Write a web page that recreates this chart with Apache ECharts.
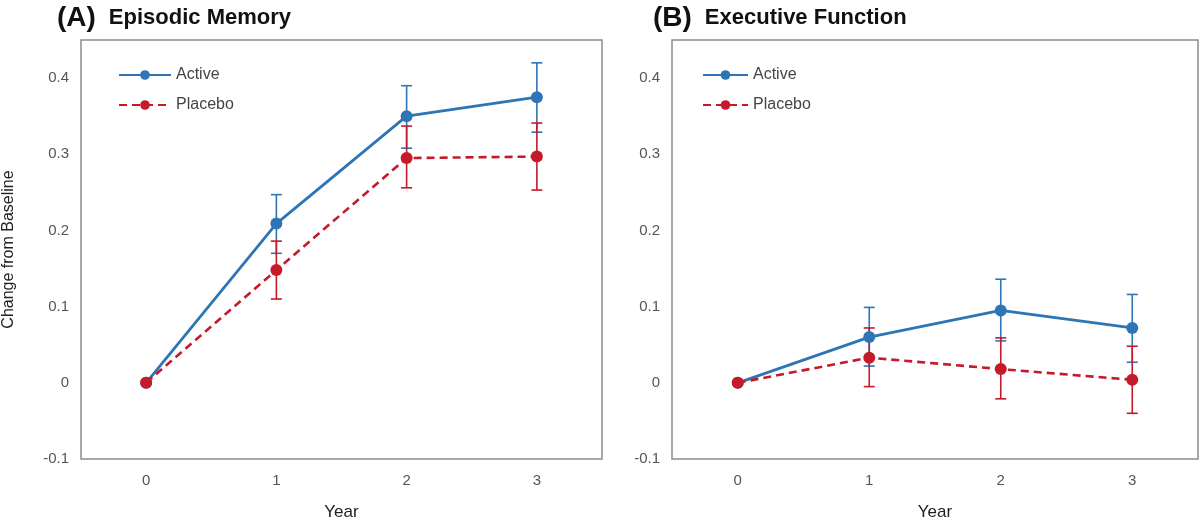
<!DOCTYPE html>
<html>
<head>
<meta charset="utf-8">
<script src="https://cdn.jsdelivr.net/npm/echarts@6/dist/echarts.min.js"></script>
<style>
html,body{margin:0;padding:0;background:#fff;}
#chart{width:1200px;height:531px;}
</style>
</head>
<body>
<div id="chart"></div>
<script>
// ---- data ----
const years = ['0', '1', '2', '3'];
const yTicks = [-0.1, 0, 0.1, 0.2, 0.3, 0.4];

// (A) Episodic Memory
const epiActive = [0, 0.209, 0.350, 0.375];
const epiActiveHigh = [0, 0.247, 0.390, 0.420];
const epiActiveLow = [0, 0.170, 0.308, 0.329];
const epiPlacebo = [0, 0.148, 0.295, 0.297];
const epiPlaceboHigh = [0, 0.186, 0.337, 0.341];
const epiPlaceboLow = [0, 0.110, 0.256, 0.253];

// (B) Executive Function
const exeActive = [0, 0.060, 0.095, 0.072];
const exeActiveHigh = [0, 0.099, 0.136, 0.116];
const exeActiveLow = [0, 0.022, 0.055, 0.027];
const exePlacebo = [0, 0.033, 0.018, 0.004];
const exePlaceboHigh = [0, 0.072, 0.059, 0.048];
const exePlaceboLow = [0, -0.005, -0.021, -0.040];

const BLUE = '#2e75b6';
const RED = '#c41a2a';

function errData(low, high) {
  const out = [];
  for (let i = 0; i < low.length; i++) {
    if (high[i] !== low[i]) out.push([i, low[i], high[i]]);
  }
  return out;
}

function errSeries(name, low, high, color, idx) {
  return {
    type: 'custom',
    name: name + ' err',
    xAxisIndex: idx, yAxisIndex: idx,
    data: errData(low, high),
    encode: { x: 0, y: [1, 2] },
    z: 2,
    silent: true,
    renderItem: function (params, api) {
      const x = api.value(0);
      const p1 = api.coord([x, api.value(1)]);
      const p2 = api.coord([x, api.value(2)]);
      const hw = 5.5;
      const style = { stroke: color, lineWidth: 1.6, fill: null };
      return {
        type: 'group',
        children: [
          { type: 'line', shape: { x1: p1[0], y1: p1[1], x2: p2[0], y2: p2[1] }, style: style },
          { type: 'line', shape: { x1: p1[0] - hw, y1: p1[1], x2: p1[0] + hw, y2: p1[1] }, style: style },
          { type: 'line', shape: { x1: p2[0] - hw, y1: p2[1], x2: p2[0] + hw, y2: p2[1] }, style: style }
        ]
      };
    }
  };
}

function lineSeries(name, data, color, dashed, idx) {
  return {
    type: 'line',
    name: name,
    xAxisIndex: idx, yAxisIndex: idx,
    data: data,
    symbol: 'circle',
    symbolSize: 12,
    z: 3,
    itemStyle: { color: color },
    lineStyle: { color: color, width: dashed ? 2.6 : 2.8, type: dashed ? [8, 5] : 'solid' },
    emphasis: { disabled: true },
    animation: false
  };
}

function yAxisDef(idx, withName) {
  return {
    type: 'value',
    gridIndex: idx,
    min: -0.1, max: 0.45, interval: 0.1,
    axisLine: { show: false },
    axisTick: { show: false },
    splitLine: { show: false },
    axisLabel: {
      showMaxLabel: false,
      margin: 12,
      color: '#555',
      fontSize: 15,
      fontFamily: 'Liberation Sans, Arial, sans-serif',
      formatter: function (v) {
        if (Math.abs(v) < 1e-9) return '0';
        return (+v.toFixed(1)).toString();
      }
    },
    name: withName ? 'Change from Baseline' : '',
    nameLocation: 'middle',
    nameGap: 64,
    nameTextStyle: { color: '#222', fontSize: 16, fontFamily: 'Liberation Sans, Arial, sans-serif' }
  };
}

function xAxisDef(idx) {
  return {
    type: 'category',
    gridIndex: idx,
    data: years,
    boundaryGap: true,
    axisLine: { show: false },
    axisTick: { show: false },
    splitLine: { show: false },
    axisLabel: { color: '#555', fontSize: 15, margin: 14, fontFamily: 'Liberation Sans, Arial, sans-serif' },
    name: 'Year',
    nameLocation: 'middle',
    nameGap: 45,
    nameTextStyle: { color: '#222', fontSize: 17, fontFamily: 'Liberation Sans, Arial, sans-serif' }
  };
}

function titleDef(letter, text, left) {
  return {
    text: '{a|' + letter + '}{b|' + text + '}',
    left: left, top: -1,
    textStyle: {
      rich: {
        a: { fontSize: 28, fontWeight: 'bold', color: '#111', fontFamily: 'Liberation Sans, Arial, sans-serif' },
        b: { fontSize: 22, fontWeight: 'bold', color: '#111', fontFamily: 'Liberation Sans, Arial, sans-serif', padding: [0, 0, 0, 13] }
      }
    }
  };
}

function legendDef(left, w) {
  return {
    orient: 'vertical',
    left: left, top: 62,
    itemWidth: w, itemHeight: 12,
    itemGap: 14,
    data: ['Active', 'Placebo'],
    textStyle: { color: '#444', fontSize: 16, fontFamily: 'Liberation Sans, Arial, sans-serif', padding: [0, 0, 0, 0] },
    selectedMode: false
  };
}

const chart = echarts.init(document.getElementById('chart'), null, { renderer: 'canvas' });
chart.setOption({
  backgroundColor: '#fff',
  animation: false,
  title: [titleDef('(A)', 'Episodic Memory', 52), titleDef('(B)', 'Executive Function', 648)],
  legend: [legendDef(113, 52), legendDef(697, 45)],
  grid: [
    { left: 76, top: 40, width: 526, height: 419, show: true, borderColor: '#8c8c8c', borderWidth: 1.5, backgroundColor: 'transparent' },
    { left: 672, top: 40, width: 526, height: 419, show: true, borderColor: '#8c8c8c', borderWidth: 1.5, backgroundColor: 'transparent' }
  ],
  xAxis: [xAxisDef(0), xAxisDef(1)],
  yAxis: [yAxisDef(0, true), yAxisDef(1, false)],
  series: [
    errSeries('Active', epiActiveLow, epiActiveHigh, BLUE, 0),
    errSeries('Placebo', epiPlaceboLow, epiPlaceboHigh, RED, 0),
    lineSeries('Active', epiActive, BLUE, false, 0),
    lineSeries('Placebo', epiPlacebo, RED, true, 0),
    errSeries('Active', exeActiveLow, exeActiveHigh, BLUE, 1),
    errSeries('Placebo', exePlaceboLow, exePlaceboHigh, RED, 1),
    lineSeries('Active', exeActive, BLUE, false, 1),
    lineSeries('Placebo', exePlacebo, RED, true, 1)
  ]
});
</script>
</body>
</html>
